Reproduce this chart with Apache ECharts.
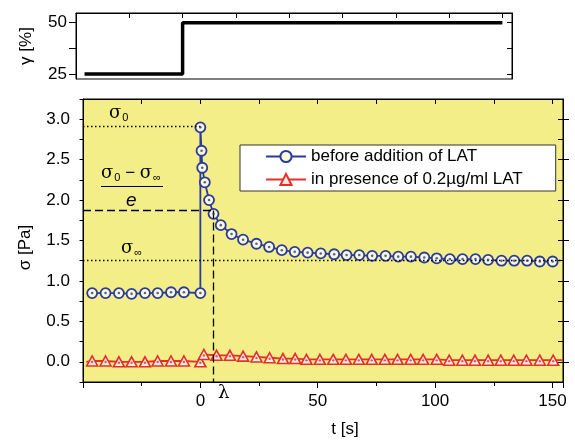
<!DOCTYPE html>
<html>
<head>
<meta charset="utf-8">
<title>stress relaxation</title>
<script src="https://cdn.jsdelivr.net/npm/echarts@6/dist/echarts.min.js"></script>
<style>
    html, body { margin: 0; padding: 0; background: #fff; }
    #chart { width: 575px; height: 448px; }
</style>
</head>
<body>
<div id="chart"></div>
<script>
    // top panel: strain step
    var strainT = [-46, 0, 0, 150];
    var strainV = [25, 25, 50, 50];

    // sigma, before addition of LAT
    var beforeT = [-46.1, -40.4, -34.7, -29.3, -23.6, -18.2, -12.5, -7.0, 0, 0,
        0.5, 0.8, 1.9, 3.7, 5.6, 8.7, 13.3, 18.2, 23.9, 29.3, 34.7, 40.2, 45.7, 51.3,
        57.0, 62.3, 67.7, 73.2, 78.9, 84.3, 89.7, 95.4, 100.7, 106.3, 111.7, 117.2,
        122.6, 128.3, 133.7, 139.2, 144.6, 150.1];
    var beforeV = [0.85, 0.85, 0.85, 0.84, 0.85, 0.85, 0.86, 0.86, 0.85, 2.90,
        2.61, 2.40, 2.22, 2.00, 1.83, 1.69, 1.58, 1.51, 1.46, 1.42, 1.38, 1.36, 1.35, 1.34,
        1.33, 1.32, 1.32, 1.31, 1.31, 1.30, 1.30, 1.29, 1.28, 1.27, 1.27, 1.27,
        1.26, 1.25, 1.25, 1.25, 1.24, 1.24];

    // sigma, in presence of LAT (first and last point carry no marker)
    var presenceT = [-48.6, -46.1, -40.4, -34.7, -29.3, -23.6, -18.2, -12.5, -7.0, 0,
        1.5, 6.9, 12.6, 18.2, 23.9, 29.5, 35.2, 40.4, 45.2, 50.9, 56.6, 62.0, 67.5,
        73.0, 78.6, 84.0, 89.6, 94.9, 100.7, 106.0, 111.6, 117.0, 122.6, 128.0, 133.5,
        138.9, 144.6, 150.3, 154.5];
    var presenceV = [0.0, 0.01, 0.01, 0.0, 0.0, 0.0, 0.01, 0.01, 0.01, 0.0,
        0.09, 0.08, 0.08, 0.07, 0.06, 0.05, 0.04, 0.04, 0.03, 0.03, 0.03, 0.03, 0.03,
        0.03, 0.03, 0.03, 0.03, 0.03, 0.03, 0.02, 0.02, 0.02, 0.02, 0.02, 0.02,
        0.02, 0.02, 0.02, 0.02];

    var xTicks = [0, 50, 100, 150];
    var sigmaTicks = [0, 0.5, 1, 1.5, 2, 2.5, 3];
    var gammaTicks = [25, 50];
    var gammaMarks = [25, 37.5, 50];

    // annotation levels
    var sigma0 = 2.91, sigmaE = 1.87, sigmaInf = 1.25, lambdaT = 5.5;

    var names = ['before addition of LAT', 'in presence of 0.2\u00b5g/ml LAT'];
    var blue = '#2b3a9e', red = '#e4302a';
    var font = 'Liberation Sans, Arial, sans-serif';
    var serif = 'DejaVu Serif, Liberation Serif, serif';

    function pairs(t, v) {
        return t.map(function (x, i) { return [x, v[i]]; });
    }

    var strainData = pairs(strainT, strainV);
    var beforeData = pairs(beforeT, beforeV);
    var presenceData = pairs(presenceT, presenceV).map(function (p, i) {
        if (i === 0 || i === presenceT.length - 1) return { value: p, symbol: 'none' };
        return p;
    });
    var presenceDots = pairs(presenceT, presenceV).slice(1, presenceT.length - 1);

    var tickStyle = { color: '#000', width: 1 };
    var lineBlack = { onZero: false, lineStyle: { color: '#000', width: 1 } };

    var chart = echarts.init(document.getElementById('chart'));
    var option = {
        animation: false,
        grid: [
            { left: 76, top: 13, width: 436, height: 66, show: true, borderColor: '#000', borderWidth: 1, backgroundColor: '#fff' },
            { left: 83, top: 99, width: 480, height: 283, show: true, borderColor: '#000', borderWidth: 1, backgroundColor: '#f3ee88' }
        ],
        xAxis: [
            {
                gridIndex: 0, type: 'value', position: 'top', min: -50, max: 154.5, interval: 25,
                axisLine: lineBlack, axisTick: { inside: true, length: 5, lineStyle: tickStyle },
                axisLabel: { show: false }, splitLine: { show: false }
            },
            {
                gridIndex: 1, type: 'value', position: 'bottom', min: -50, max: 154.5, interval: 50,
                axisLine: lineBlack, axisTick: { length: 6, lineStyle: tickStyle },
                minorTick: { show: true, splitNumber: 2, length: 4, lineStyle: tickStyle },
                axisLabel: {
                    fontSize: 17, fontFamily: font, color: '#000', margin: 11,
                    formatter: function (v) { return xTicks.indexOf(v) >= 0 ? String(v) : ''; }
                },
                splitLine: { show: false }, minorSplitLine: { show: false },
                name: 't [s]', nameLocation: 'middle', nameGap: 39,
                nameTextStyle: { fontSize: 17, fontFamily: font, color: '#000', padding: [0, 0, 0, 44] }
            },
            {
                gridIndex: 1, type: 'value', position: 'top', min: -50, max: 154.5, interval: 25,
                axisLine: lineBlack, axisTick: { inside: true, length: 5, lineStyle: tickStyle },
                axisLabel: { show: false }, splitLine: { show: false }
            }
        ],
        yAxis: [
            {
                gridIndex: 0, type: 'value', min: 22.6, max: 54.7,
                axisLine: lineBlack,
                axisTick: { length: 7, lineStyle: tickStyle, customValues: gammaMarks },
                axisLabel: { fontSize: 17, fontFamily: font, color: '#000', margin: 9, customValues: gammaTicks },
                splitLine: { show: false },
                name: '\u03b3 [%]', nameLocation: 'middle', nameGap: 41,
                nameTextStyle: { fontSize: 17, fontFamily: font, color: '#000' }
            },
            {
                gridIndex: 0, type: 'value', position: 'right', min: 22.6, max: 54.7,
                axisLine: lineBlack,
                axisTick: { inside: true, length: 5, lineStyle: tickStyle, customValues: gammaMarks },
                axisLabel: { show: false }, splitLine: { show: false }
            },
            {
                gridIndex: 1, type: 'value', min: -0.25, max: 3.25, interval: 0.25,
                axisLine: lineBlack, axisTick: { length: 3.5, lineStyle: tickStyle },
                axisLabel: {
                    fontSize: 17, fontFamily: font, color: '#000', margin: 13,
                    formatter: function (v) {
                        var hit = sigmaTicks.some(function (t) { return Math.abs(t - v) < 1e-6; });
                        return hit ? v.toFixed(1) : '';
                    }
                },
                splitLine: { show: false },
                name: '\u03c3 [Pa]', nameLocation: 'middle', nameGap: 49,
                nameTextStyle: { fontSize: 17, fontFamily: font, color: '#000', padding: [0, 14, 0, 0] }
            },
            {
                gridIndex: 1, type: 'value', min: -0.25, max: 3.25,
                axisLine: { show: false, onZero: false },
                axisTick: { length: 6, lineStyle: tickStyle, customValues: sigmaTicks },
                axisLabel: { show: false }, splitLine: { show: false }
            },
            {
                gridIndex: 1, type: 'value', position: 'right', min: -0.25, max: 3.25, interval: 0.25,
                axisLine: lineBlack, axisTick: { inside: true, length: 5, lineStyle: tickStyle },
                axisLabel: { show: false }, splitLine: { show: false }
            }
        ],
        legend: {
            data: names,
            orient: 'vertical',
            left: 240, top: 145,
            itemWidth: 40, itemHeight: 14, itemGap: 6,
            padding: [3, 33, 3, 25],
            borderColor: '#333', borderWidth: 1, backgroundColor: '#fff',
            textStyle: { fontSize: 17, fontFamily: font, color: '#000', lineHeight: 16 }
        },
        series: [
            {
                type: 'line', xAxisIndex: 0, yAxisIndex: 0, data: strainData,
                symbol: 'none', lineStyle: { color: '#000', width: 3.5 }, silent: true
            },
            {
                name: names[0], type: 'line', xAxisIndex: 1, yAxisIndex: 2, data: beforeData,
                symbol: 'circle', symbolSize: 10, z: 4,
                itemStyle: { color: '#fbf9d8', borderColor: blue, borderWidth: 1.8 },
                lineStyle: { color: blue, width: 1.8 },
                markLine: {
                    silent: true, symbol: ['none', 'none'], label: { show: false },
                    lineStyle: { color: '#000', width: 1.3 },
                    data: [
                        [{ coord: [-50, sigma0], lineStyle: { type: [1.5, 2.5], color: '#000', width: 1.3 } }, { coord: [0, sigma0] }],
                        [{ coord: [-50, sigmaInf], lineStyle: { type: [1.5, 2.5], color: '#000', width: 1.3 } }, { coord: [154.5, sigmaInf] }],
                        [{ coord: [-50, sigmaE], lineStyle: { type: [8, 4], color: '#000', width: 1.3 } }, { coord: [lambdaT, sigmaE] }],
                        [{ coord: [lambdaT, sigmaE], lineStyle: { type: [8, 4], color: '#000', width: 1.3 } }, { coord: [lambdaT, -0.25] }]
                    ]
                }
            },
            {
                name: names[1], type: 'line', xAxisIndex: 1, yAxisIndex: 2, data: presenceData,
                symbol: 'triangle', symbolSize: [11, 10], z: 4,
                itemStyle: { color: '#fdeae4', borderColor: red, borderWidth: 1.6 },
                lineStyle: { color: red, width: 1.8 }
            },
            {
                type: 'scatter', xAxisIndex: 1, yAxisIndex: 2, data: beforeData,
                symbol: 'circle', symbolSize: 2.6, itemStyle: { color: blue }, silent: true, z: 5
            },
            {
                type: 'scatter', xAxisIndex: 1, yAxisIndex: 2, data: presenceDots,
                symbol: 'circle', symbolSize: 2.4, symbolOffset: [0, 1], itemStyle: { color: red }, silent: true, z: 5
            }
        ],
        graphic: [
            {
                type: 'text', left: 109, top: 104,
                style: {
                    text: '{s|\u03c3}{b|0}',
                    rich: {
                        s: { fontFamily: serif, fontSize: 18, fill: '#000' },
                        b: { fontFamily: font, fontSize: 11, fill: '#000', padding: [9, 0, 0, 1] }
                    }
                }
            },
            {
                type: 'text', left: 101, top: 164,
                style: {
                    text: '{s|\u03c3}{b|0}{m| \u2212 }{s|\u03c3}{b|\u221e}',
                    rich: {
                        s: { fontFamily: serif, fontSize: 18, fill: '#000' },
                        m: { fontFamily: font, fontSize: 17, fill: '#000' },
                        b: { fontFamily: font, fontSize: 11, fill: '#000', padding: [9, 0, 0, 1] }
                    }
                }
            },
            {
                type: 'line', shape: { x1: 101, y1: 186.5, x2: 163, y2: 186.5 },
                style: { stroke: '#000', lineWidth: 1 }
            },
            {
                type: 'text', left: 126, top: 191,
                style: { text: 'e', fontFamily: font, fontStyle: 'italic', fontSize: 19, fill: '#000' }
            },
            {
                type: 'text', left: 121, top: 239,
                style: {
                    text: '{s|\u03c3}{b|\u221e}',
                    rich: {
                        s: { fontFamily: serif, fontSize: 18, fill: '#000' },
                        b: { fontFamily: font, fontSize: 11, fill: '#000', padding: [9, 0, 0, 1] }
                    }
                }
            },
            {
                type: 'text', left: 218, top: 384,
                style: { text: '\u03bb', fontFamily: serif, fontSize: 18, fill: '#000' }
            }
        ]
    };
    chart.setOption(option);
</script>
</body>
</html>
